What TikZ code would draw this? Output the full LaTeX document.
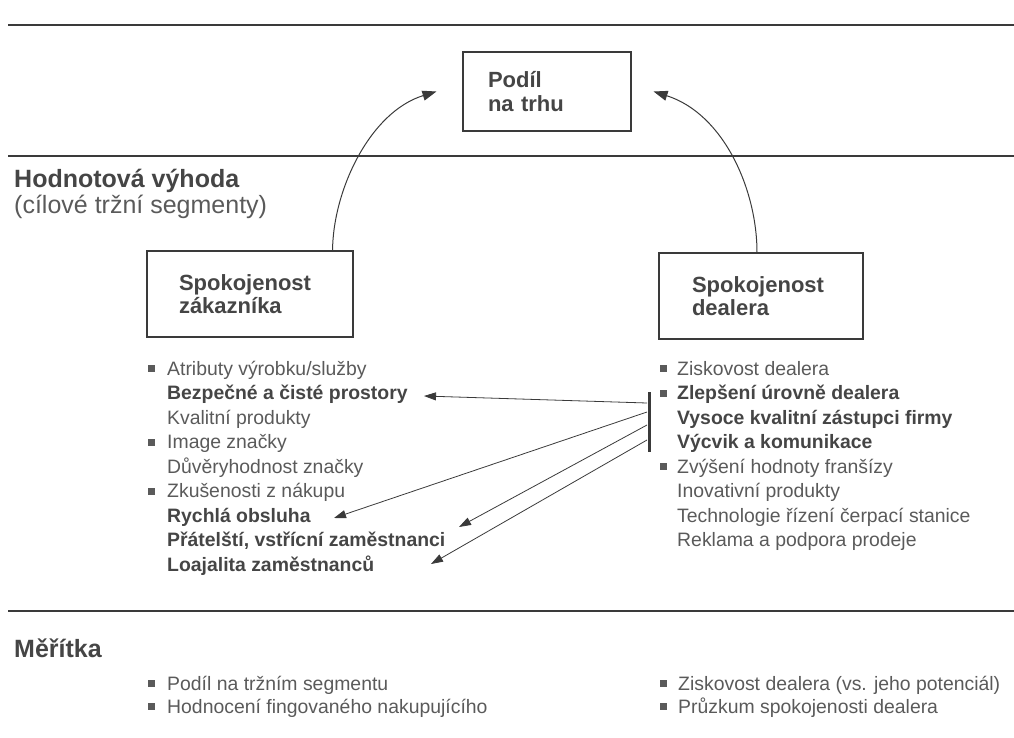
\documentclass[tikz,border=0pt]{standalone}
\usepackage{fontspec}
\setmainfont{Liberation Sans}
\usetikzlibrary{arrows.meta,calc}
\definecolor{ink}{HTML}{454545}
\definecolor{softink}{HTML}{5A5A5A}
\definecolor{rulecol}{HTML}{3A3A3A}
\begin{document}
\begin{tikzpicture}[x=1pt,y=-1pt,
  every node/.style={text=ink, inner sep=0pt},
  item/.style={anchor=base west, text=softink, font=\fontsize{19.4}{23}\selectfont},
  itemb/.style={anchor=base west, text=ink, font=\fontsize{19.4}{23}\selectfont\bfseries},
  head/.style={anchor=base west, font=\fontsize{25}{30}\selectfont\bfseries},
  subhead/.style={anchor=base west, text=softink, font=\fontsize{25}{30}\selectfont},
  box/.style={draw=rulecol, line width=1.1pt, align=left,
    font=\fontsize{22}{23.5}\selectfont\bfseries},
  band/.style={draw=rulecol, line width=1.3pt},
  link/.style={draw=rulecol, line width=0.8pt, -{Triangle[length=12pt,width=8pt]}},
  bigarrow/.style={draw=rulecol, line width=1pt, -{Triangle[length=14pt,width=10pt]}},
  bul/.style={fill=softink, minimum size=7pt, inner sep=0pt, anchor=center}
]
\useasboundingbox (0,0) rectangle (1014,738);

% horizontal section rules
\coordinate (r1a) at (8,25);  \coordinate (r1b) at (1014,25);
\coordinate (r2a) at (8,156); \coordinate (r2b) at (1014,156);
\coordinate (r3a) at (8,611); \coordinate (r3b) at (1014,611);
\draw[band] (r1a) -- (r1b);
\draw[band] (r2a) -- (r2b);
\draw[band] (r3a) -- (r3b);

% boxes
\node[box, minimum width=168pt, minimum height=79pt, text width=118pt] (share) at (547,91.5) {Podíl\\na trhu};
\node[box, minimum width=206pt, minimum height=86pt, text width=142pt] (lbox) at (250,294) {Spokojenost\\zákazníka};
\node[box, minimum width=204pt, minimum height=86pt, text width=138pt] (rbox) at (761,296) {Spokojenost\\dealera};

% headings
\node[head] (hv) at (14,188) {Hodnotová výhoda};
\node[subhead] (cs) at (14,214) {(cílové tržní segmenty)};
\node[head] (mr) at (14,657) {Měřítka};

% curved arrows to market share
\draw[bigarrow] ($(lbox.north east)+(-21,0)$) .. controls (333,190) and (370,112) .. ($(share.west)+(-26,0)$);
\draw[bigarrow] ($(rbox.north)+(-4,0)$) .. controls (757,190) and (724,114) .. ($(share.east)+(22,0)$);

% left list
\node[bul] (lb1) at (151.5,368.5) {};
\node[item]  (l1) at (167,375)   {Atributy výrobku/služby};
\node[itemb] (l2) at (167,399.5) {Bezpečné a čisté prostory};
\node[item]  (l3) at (167,424)   {Kvalitní produkty};
\node[bul] (lb2) at (151.5,442) {};
\node[item]  (l4) at (167,448.5) {Image značky};
\node[item]  (l5) at (167,473)   {Důvěryhodnost značky};
\node[bul] (lb3) at (151.5,491) {};
\node[item]  (l6) at (167,497.5) {Zkušenosti z nákupu};
\node[itemb] (l7) at (167,522)   {Rychlá obsluha};
\node[itemb] (l8) at (167,546.5) {Přátelští, vstřícní zaměstnanci};
\node[itemb] (l9) at (167,571)   {Loajalita zaměstnanců};

% right list
\node[bul] (rb1) at (663.5,368.5) {};
\node[item]  (r1) at (677,375)   {Ziskovost dealera};
\node[bul] (rb2) at (663.5,393) {};
\node[itemb] (r2) at (677,399.5) {Zlepšení úrovně dealera};
\node[itemb] (r3) at (677,424)   {Vysoce kvalitní zástupci firmy};
\node[itemb] (r4) at (677,448.5) {Výcvik a komunikace};
\node[bul] (rb3) at (663.5,466.5) {};
\node[item]  (r5) at (677,473)   {Zvýšení hodnoty franšízy};
\node[item]  (r6) at (677,497.5) {Inovativní produkty};
\node[item]  (r7) at (677,522)   {Technologie řízení čerpací stanice};
\node[item]  (r8) at (677,546.5) {Reklama a podpora prodeje};

% bracket bar and its links
\coordinate (barT) at (649,392);
\coordinate (barB) at (649,452);
\draw[draw=rulecol, line width=3pt] (barT) -- (barB);
\coordinate (s1) at (647,403);
\coordinate (s2) at (647,412);
\coordinate (s3) at (647,425);
\coordinate (s4) at (647,440);
\coordinate (t1) at (424,396);
\coordinate (t2) at (334,518);
\coordinate (t3) at (459,527);
\coordinate (t4) at (431,564);
\draw[link] (s1) -- (t1);
\draw[link] (s2) -- (t2);
\draw[link] (s3) -- (t3);
\draw[link] (s4) -- (t4);

% measures
\node[bul] (mb1) at (151.5,683.5) {};
\node[item] (m1) at (167,690) {Podíl na tržním segmentu};
\node[bul] (mb2) at (151.5,706.5) {};
\node[item] (m2) at (167,713) {Hodnocení fingovaného nakupujícího};
\node[bul] (mb3) at (663.5,683.5) {};
\node[item] (m3) at (678,690) {Ziskovost dealera (vs. jeho potenciál)};
\node[bul] (mb4) at (663.5,706.5) {};
\node[item] (m4) at (678,713) {Průzkum spokojenosti dealera};
\end{tikzpicture}
\end{document}
